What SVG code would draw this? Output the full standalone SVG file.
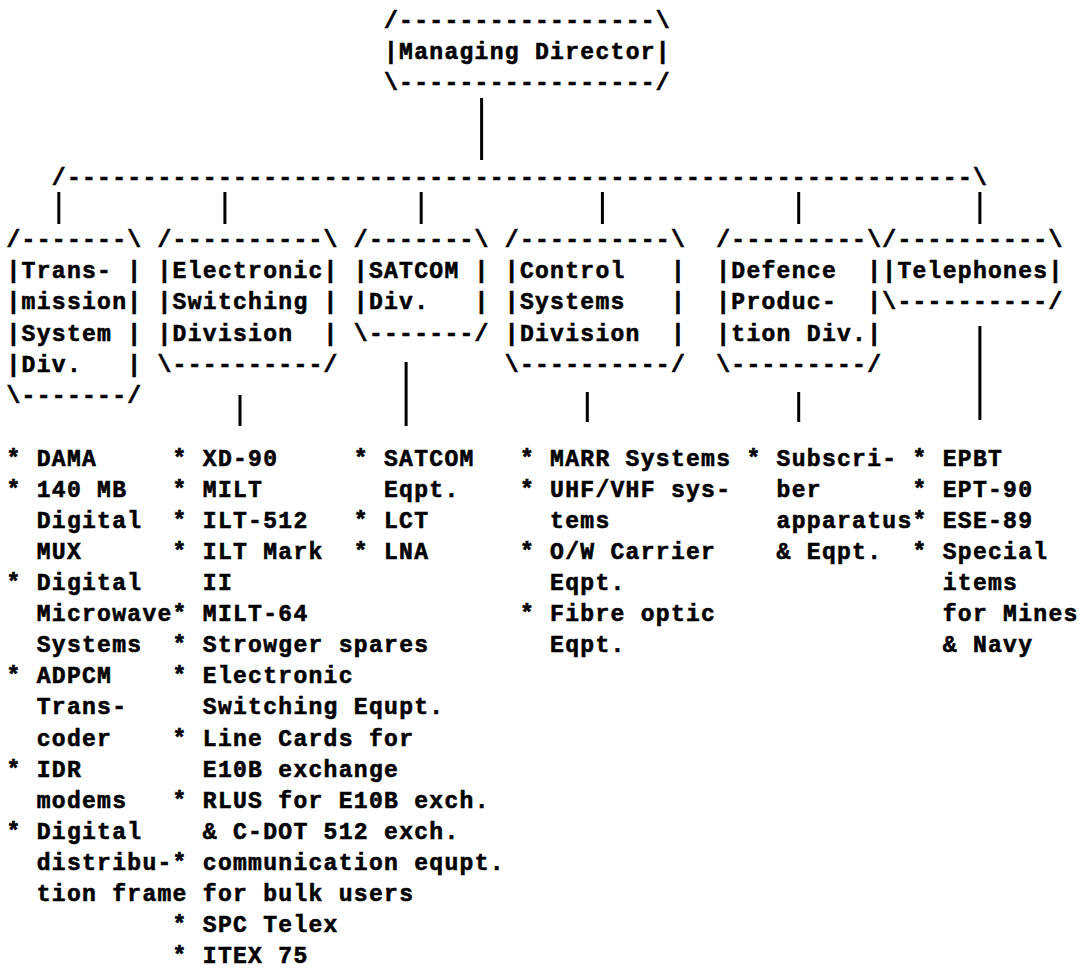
<svg xmlns="http://www.w3.org/2000/svg" width="1084" height="971" viewBox="0 0 1084 971" xml:space="preserve">
<style>
text { font-family: "Liberation Mono", "Courier New", monospace; font-weight: bold; font-size: 23px; letter-spacing: 1.3px; fill: #000; stroke: #000; stroke-width: 0.6px; white-space: pre; }
.conn line { stroke: #000; stroke-width: 3; stroke-linecap: butt; }
</style>
<rect width="1084" height="971" fill="#fff"/>
<g id="connectors" class="conn">
  <line x1="481.6" y1="98" x2="481.6" y2="160"/>
  <text x="51.8" y="184.5">/------------------------------------------------------------\</text>
  <line x1="58.8" y1="192" x2="58.8" y2="224"/>
  <line x1="224.9" y1="192" x2="224.9" y2="224"/>
  <line x1="421.2" y1="192" x2="421.2" y2="224"/>
  <line x1="602.4" y1="192" x2="602.4" y2="224"/>
  <line x1="798.7" y1="192" x2="798.7" y2="224"/>
  <line x1="979.9" y1="192" x2="979.9" y2="224"/>
  <line x1="240" y1="395" x2="240" y2="426"/>
  <line x1="406.1" y1="362" x2="406.1" y2="426"/>
  <line x1="587.3" y1="392" x2="587.3" y2="422"/>
  <line x1="798.7" y1="392" x2="798.7" y2="422"/>
  <line x1="979.9" y1="326" x2="979.9" y2="420"/>
</g>
<g id="managing-director">
  <text x="384" y="27.6">/-----------------\</text>
  <text x="384" y="58.9">|Managing Director|</text>
  <text x="384" y="90.2">\-----------------/</text>
</g>
<g id="transmission">
  <text x="6.5" y="246.7">/-------\</text>
  <text x="6.5" y="278">|Trans- |</text>
  <text x="6.5" y="309.3">|mission|</text>
  <text x="6.5" y="340.6">|System |</text>
  <text x="6.5" y="371.9">|Div.   |</text>
  <text x="6.5" y="403.2">\-------/</text>
</g>
<g id="electronic-switching">
  <text x="157.5" y="246.7">/----------\</text>
  <text x="157.5" y="278">|Electronic|</text>
  <text x="157.5" y="309.3">|Switching |</text>
  <text x="157.5" y="340.6">|Division  |</text>
  <text x="157.5" y="371.9">\----------/</text>
</g>
<g id="satcom">
  <text x="353.8" y="246.7">/-------\</text>
  <text x="353.8" y="278">|SATCOM |</text>
  <text x="353.8" y="309.3">|Div.   |</text>
  <text x="353.8" y="340.6">\-------/</text>
</g>
<g id="control-systems">
  <text x="504.8" y="246.7">/----------\</text>
  <text x="504.8" y="278">|Control   |</text>
  <text x="504.8" y="309.3">|Systems   |</text>
  <text x="504.8" y="340.6">|Division  |</text>
  <text x="504.8" y="371.9">\----------/</text>
</g>
<g id="defence-production">
  <text x="716.2" y="246.7">/---------\</text>
  <text x="716.2" y="278">|Defence  |</text>
  <text x="716.2" y="309.3">|Produc-  |</text>
  <text x="716.2" y="340.6">|tion Div.|</text>
  <text x="716.2" y="371.9">\---------/</text>
</g>
<g id="telephones">
  <text x="882.3" y="246.7">/----------\</text>
  <text x="882.3" y="278">|Telephones|</text>
  <text x="882.3" y="309.3">\----------/</text>
</g>
<g id="items-transmission">
  <text x="6.5" y="465.8">* DAMA</text>
  <text x="6.5" y="496.9">* 140 MB</text>
  <text x="6.5" y="528">  Digital</text>
  <text x="6.5" y="559">  MUX</text>
  <text x="6.5" y="590.1">* Digital</text>
  <text x="6.5" y="621.2">  Microwave</text>
  <text x="6.5" y="652.2">  Systems</text>
  <text x="6.5" y="683.3">* ADPCM</text>
  <text x="6.5" y="714.4">  Trans-</text>
  <text x="6.5" y="745.5">  coder</text>
  <text x="6.5" y="776.6">* IDR</text>
  <text x="6.5" y="807.6">  modems</text>
  <text x="6.5" y="838.7">* Digital</text>
  <text x="6.5" y="869.8">  distribu-</text>
  <text x="6.5" y="900.9">  tion frame</text>
</g>
<g id="items-electronic-switching">
  <text x="172.6" y="465.8">* XD-90</text>
  <text x="172.6" y="496.9">* MILT</text>
  <text x="172.6" y="528">* ILT-512</text>
  <text x="172.6" y="559">* ILT Mark</text>
  <text x="172.6" y="590.1">  II</text>
  <text x="172.6" y="621.2">* MILT-64</text>
  <text x="172.6" y="652.2">* Strowger spares</text>
  <text x="172.6" y="683.3">* Electronic</text>
  <text x="172.6" y="714.4">  Switching Equpt.</text>
  <text x="172.6" y="745.5">* Line Cards for</text>
  <text x="172.6" y="776.6">  E10B exchange</text>
  <text x="172.6" y="807.6">* RLUS for E10B exch.</text>
  <text x="172.6" y="838.7">  &amp; C-DOT 512 exch.</text>
  <text x="172.6" y="869.8">* communication equpt.</text>
  <text x="172.6" y="900.9">  for bulk users</text>
  <text x="172.6" y="932">* SPC Telex</text>
  <text x="172.6" y="963">* ITEX 75</text>
</g>
<g id="items-satcom">
  <text x="353.8" y="465.8">* SATCOM</text>
  <text x="353.8" y="496.9">  Eqpt.</text>
  <text x="353.8" y="528">* LCT</text>
  <text x="353.8" y="559">* LNA</text>
</g>
<g id="items-control-systems">
  <text x="519.9" y="465.8">* MARR Systems</text>
  <text x="519.9" y="496.9">* UHF/VHF sys-</text>
  <text x="519.9" y="528">  tems</text>
  <text x="519.9" y="559">* O/W Carrier</text>
  <text x="519.9" y="590.1">  Eqpt.</text>
  <text x="519.9" y="621.2">* Fibre optic</text>
  <text x="519.9" y="652.2">  Eqpt.</text>
</g>
<g id="items-defence-production">
  <text x="746.4" y="465.8">* Subscri-</text>
  <text x="746.4" y="496.9">  ber</text>
  <text x="746.4" y="528">  apparatus</text>
  <text x="746.4" y="559">  &amp; Eqpt.</text>
</g>
<g id="items-telephones">
  <text x="912.5" y="465.8">* EPBT</text>
  <text x="912.5" y="496.9">* EPT-90</text>
  <text x="912.5" y="528">* ESE-89</text>
  <text x="912.5" y="559">* Special</text>
  <text x="912.5" y="590.1">  items</text>
  <text x="912.5" y="621.2">  for Mines</text>
  <text x="912.5" y="652.2">  &amp; Navy</text>
</g>
</svg>
